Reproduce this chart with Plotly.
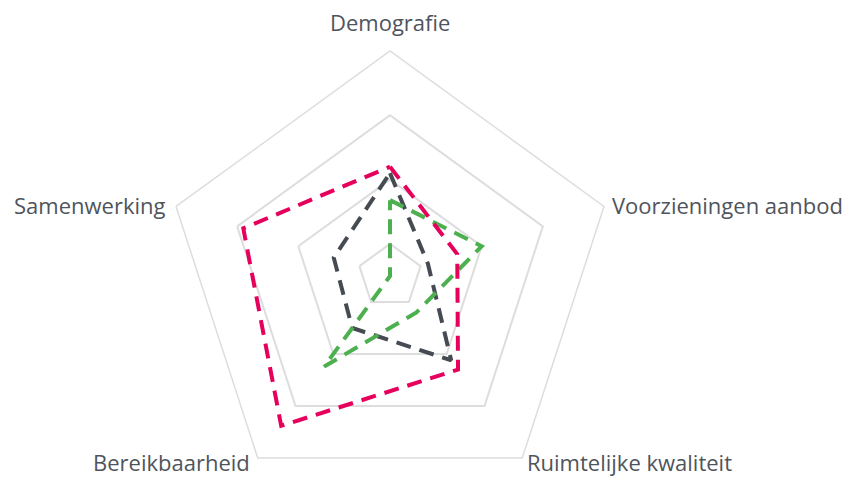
import plotly.graph_objects as go

categories = ["Demografie", "Voorzieningen aanbod", "Ruimtelijke kwaliteit", "Bereikbaarheid", "Samenwerking"]
series_pink = [2.2, 1.6, 2.3, 3.38, 2.9]
series_gray = [2.1, 1.12, 2.12, 1.5, 1.42]
series_green = [1.68, 2.0, 1.2, 2.24, 0.5]
grid_vals = [1, 2, 3]
r_range = [0.5, 4]

W, H = 858, 552

def closed(v):
    return list(v) + [v[0]]

fig = go.Figure()
for vals, color in [(series_gray, "#464B53"), (series_green, "#4DB04F"), (series_pink, "#E6005C")]:
    fig.add_trace(go.Scatterpolar(
        r=closed(vals), theta=closed(categories), mode="lines",
        line=dict(color=color, width=4, dash="15px,9px"),
        hoverinfo="skip", showlegend=False,
    ))

# category labels placed around the outer pentagon (layout positions in pixels)
label_pos = [
    (390, 22, "center", "middle"),
    (611, 205, "left", "middle"),
    (526, 478, "left", "bottom"),
    (251, 478, "right", "bottom"),
    (166, 205, "right", "middle"),
]
for cat, (px, py, xa, ya) in zip(categories, label_pos):
    fig.add_annotation(text=cat, x=px / W, y=1 - py / H, xref="paper", yref="paper",
                       xanchor=xa, yanchor=ya, showarrow=False, borderpad=0,
                       font=dict(family="Open Sans", size=22, color="#4F545C"))

fig.update_layout(
    width=W, height=H,
    margin=dict(l=0, r=0, t=0, b=0),
    paper_bgcolor="white",
    polar=dict(
        domain=dict(x=[165 / W, 615 / W], y=[0, 1]),
        bgcolor="white",
        gridshape="linear",
        radialaxis=dict(range=r_range, tickvals=grid_vals, showticklabels=False, ticks="",
                        showline=False, gridcolor="#DDDDDD", gridwidth=1.5),
        angularaxis=dict(rotation=90, direction="clockwise", showgrid=False,
                         showline=True, linecolor="#DDDDDD", linewidth=1.5,
                         showticklabels=False, ticks=""),
    ),
)

fig.write_html("out.html", config={"displayModeBar": False},
               post_script="document.body.style.margin='0';document.body.style.overflow='hidden';")
